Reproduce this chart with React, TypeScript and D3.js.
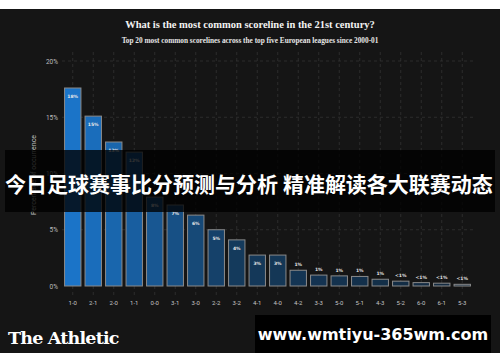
import * as d3 from "d3";
import React from "react";

// scorelines and share of matches (%)
const scores = ["1-0", "2-1", "2-0", "1-1", "0-0", "3-1", "3-0", "2-2", "3-2", "4-1", "4-0", "4-2", "3-3", "5-0", "5-1", "4-3", "5-2", "6-0", "6-1", "5-3"];
const share = [17.6, 15.1, 12.8, 11.9, 7.9, 7.2, 6.3, 5.0, 4.1, 2.75, 2.75, 1.4, 0.97, 0.9, 0.85, 0.6, 0.43, 0.3, 0.25, 0.15];
const valueLabels = ["18%", "15%", "13%", "12%", "8%", "7%", "6%", "5%", "4%", "3%", "3%", "1%", "1%", "1%", "1%", "1%", "<1%", "<1%", "<1%", "<1%"];
const yTicks = [0, 5, 10, 15, 20];

const W = 500;
const H = 362;

export default function App() {
  const x = d3.scaleBand<string>().domain(scores).range([62.5, 472.5]).paddingInner(0.2).paddingOuter(0.1);
  const y = d3.scaleLinear().domain([0, 20]).range([286, 61]);
  const col = d3.scaleLinear<string>().domain([0, 8, 19]).range(["#1b74c8", "#143a5c", "#13283d"]);

  return (
    <svg width={W} height={H} style={{ position: "absolute", left: 0, top: 0 }}>
      <rect x={0} y={0} width={W} height={H} fill="#fff" />
      <rect x={0} y={9} width={W} height={344} fill="#151515" />

      <text x={250} y={28} textAnchor="middle" fill="#f2f2f2" fontFamily="Liberation Serif" fontWeight="bold" fontSize={10.5}>
        What is the most common scoreline in the 21st century?
      </text>
      <text x={250} y={43} textAnchor="middle" fill="#e6e6e6" fontFamily="Liberation Serif" fontWeight="bold" fontSize={7.3}>
        Top 20 most common scorelines across the top five European leagues since 2000-01
      </text>

      {/* grid */}
      {scores.map((s) => (
        <line key={s} x1={x(s)! + x.bandwidth() / 2} x2={x(s)! + x.bandwidth() / 2} y1={52} y2={295}
          stroke="#333" strokeWidth={0.8} strokeDasharray="3,3" />
      ))}
      {yTicks.filter((t) => t > 0).map((t) => (
        <line key={t} x1={62} x2={476} y1={y(t)} y2={y(t)} stroke="#333" strokeWidth={0.8} strokeDasharray="3,3" />
      ))}
      {yTicks.map((t) => (
        <text key={t} x={58} y={y(t) + 2.5} textAnchor="end" fill="#bdbdbd" fontFamily="Roboto" fontSize={6.5}>
          {t}%
        </text>
      ))}
      <text transform={`translate(36,175) rotate(-90)`} textAnchor="middle" fill="#bdbdbd" fontFamily="Roboto" fontSize={7}>
        Percentage of occurrence
      </text>

      {/* bars */}
      {scores.map((s, i) => {
        const top = y(share[i]);
        const inside = share[i] >= 2;
        return (
          <g key={s}>
            <rect x={x(s)} y={top} width={x.bandwidth()} height={y(0) - top} fill={col(i)} stroke="#8a8a8a" strokeWidth={1} />
            <text x={x(s)! + x.bandwidth() / 2} y={inside ? top + 10 : top - 4} textAnchor="middle"
              fill="#e8e8e8" fontFamily="DejaVu Sans" fontWeight="bold" fontSize={4.5}>
              {valueLabels[i]}
            </text>
            <text x={x(s)! + x.bandwidth() / 2} y={305} textAnchor="middle" fill="#c4c4c4" fontFamily="Roboto" fontSize={6}>
              {s}
            </text>
          </g>
        );
      })}

      {/* overlay banner */}
      <rect x={5} y={150} width={490} height={62} fill="#000" opacity={0.78} />
      <text x={249} y={192} textAnchor="middle" fill="#fff" fontFamily="Noto Sans CJK SC" fontWeight="bold" fontSize={21}>
        今日足球赛事比分预测与分析 精准解读各大联赛动态
      </text>

      <text x={8} y={344} fill="#fff" fontFamily="DejaVu Serif" fontWeight="bold" fontSize={17.5} letterSpacing={-0.8}>
        The Athletic
      </text>
      <rect x={255} y={315} width={236} height={38} fill="#000" />
      <text x={373} y={340} textAnchor="middle" fill="#fff" fontFamily="DejaVu Sans" fontWeight="bold" fontSize={16}>
        www.wmtiyu-365wm.com
      </text>
    </svg>
  );
}
